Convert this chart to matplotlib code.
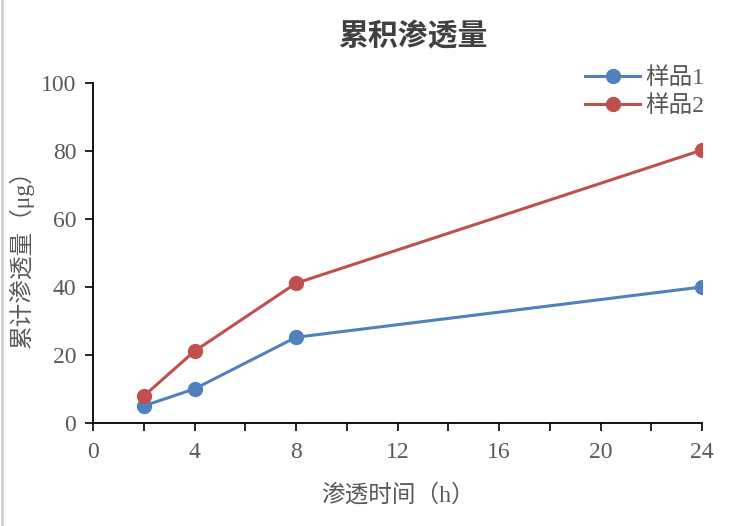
import matplotlib
matplotlib.use("Agg")
import matplotlib.pyplot as plt
from matplotlib.ticker import MultipleLocator
from matplotlib.lines import Line2D

hours = [2, 4, 8, 24]
sample1 = [5.0, 10.0, 25.2, 40.0]
sample2 = [7.9, 21.1, 41.1, 80.3]
series_names = ["样品1", "样品2"]
x_ticks = [0, 4, 8, 12, 16, 20, 24]
y_ticks = [0, 20, 40, 60, 80, 100]

FAM = ['Liberation Serif', 'Noto Sans CJK SC', 'DejaVu Sans']
plt.rcParams['font.family'] = FAM

fig = plt.figure(figsize=(7.5, 5.26), dpi=100)
ax = fig.add_axes([0.124, 0.196, 0.812, 0.646])

blue = '#4F81BD'
red = '#C0504D'
ax.plot(hours, sample1, color=blue, lw=2.2, marker='o', ms=10, label=series_names[0])
ax.plot(hours, sample2, color=red, lw=2.2, marker='o', ms=10, label=series_names[1])

ax.set_xlim(0, 24)
ax.set_ylim(0, 100)
ax.set_xticks(x_ticks)
ax.set_yticks(y_ticks)
ax.xaxis.set_minor_locator(MultipleLocator(2))
for s in ['top', 'right']:
    ax.spines[s].set_visible(False)
for s in ['left', 'bottom']:
    ax.spines[s].set_linewidth(1.3)
    ax.spines[s].set_color('black')
ax.tick_params(axis='both', which='both', direction='out', length=6, width=1.2, color='black')
ax.tick_params(axis='both', which='major', labelsize=17, labelcolor='#595959')
ax.tick_params(axis='x', which='major', pad=8)
ax.tick_params(axis='y', which='major', pad=6)
for lab in ax.get_xticklabels() + ax.get_yticklabels():
    lab.set_family('Liberation Serif')

ax.set_xlabel('渗透时间（h）', fontsize=17, color='#595959', family=FAM, labelpad=15)
ax.set_ylabel('累计渗透量（μg）', fontsize=17, color='#595959', family=FAM, labelpad=5)

fig.text(0.55, 0.931, '累积渗透量', fontsize=21.5, fontweight='bold', color='#404040',
         ha='center', va='center', family=['Noto Sans CJK SC'])

leg = ax.legend(loc='upper right', bbox_to_anchor=(1.02, 1.075), frameon=False,
                fontsize=17, handlelength=2.3, handletextpad=0.25, labelspacing=0.27,
                borderaxespad=0)
for t in leg.get_texts():
    t.set_color('#595959')

fig.add_artist(Line2D([0.002, 0.002], [0, 1], color='#d0d0d0', lw=2, transform=fig.transFigure))

fig.savefig('out.png', dpi=100)
